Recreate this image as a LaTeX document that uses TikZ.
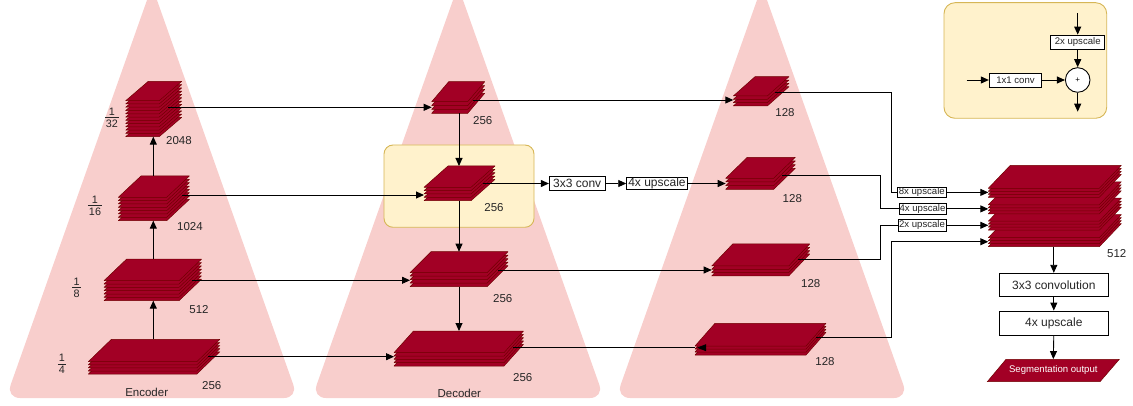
\documentclass[tikz,border=0pt]{standalone}
\usepackage{fontspec}
\setmainfont{Liberation Sans}
\usetikzlibrary{arrows.meta,calc}

\definecolor{slabfill}{HTML}{A20025}
\definecolor{slabedge}{HTML}{6F0000}
\definecolor{pyrfill}{HTML}{F8CECC}
\definecolor{hlfill}{HTML}{FFF2CC}
\definecolor{hledge}{HTML}{D6B656}

\tikzset{
  slab/.style={fill=slabfill, draw=slabedge, line width=0.5pt, line join=round},
  pyr/.style={fill=pyrfill, rounded corners=14pt},
  panel/.style={fill=hlfill, draw=hledge, line width=0.9pt},
  conn/.style={draw=black, line width=0.9pt},
  arr/.style={conn, -{Triangle[length=8pt,width=7pt]}},
  lbl/.style={font=\fontsize{11.5}{12}\selectfont, inner sep=0pt, text=black!85},
  fracnum/.style={font=\fontsize{10.8}{11}\selectfont, inner sep=0pt, text=black!85},
  box/.style={draw=black, line width=0.9pt, fill=white, inner sep=0pt,
              font=\fontsize{12}{13}\selectfont, text=black!85},
  sbox/.style={box, font=\fontsize{9.6}{10}\selectfont},
}

% stacked fraction in the text font: numerator, rule, denominator
\newcommand\fracstack[2]{\vbox{\offinterlineskip\halign{\hskip1.2pt\hfil##\hfil\hskip1.2pt\cr
  #1\cr\noalign{\kern1.6pt\hrule height0.9pt\kern1.6pt}#2\cr}}}

% a stack of feature maps: name, x, y (front-left of top face), width,
% slant dx, face height, number of layers, layer gap
\newcommand\layerstack[8]{%
  \foreach \i in {#7,...,1}{%
    \pgfmathsetmacro\yy{#3+(\i-1)*#8}%
    \filldraw[slab] (#2,\yy) -- ++(#4,0) -- ++(#5,-#6) -- ++(-#4,0) -- cycle;
  }%
  \coordinate (#1-tl) at ({#2+#5},{#3-#6});
  \coordinate (#1-bl) at (#2,{#3+(#7-1)*#8});
  \coordinate (#1-in) at (#2,{#3+0.45*(#7-1)*#8});
}

\begin{document}
\begin{tikzpicture}[x=1pt, y=-1pt]
\useasboundingbox (0,0) rectangle (1133,406);
\clip (0,0) rectangle (1133,406);

% pyramids behind the three columns
\foreach \c in {152,458,762}{
  \fill[pyr] (\c-146,398) -- (\c,-14) -- (\c+146,398) -- cycle;
}

% panels
\draw[panel, rounded corners=9pt] (384,145) rectangle (534,227.3);
\draw[panel, rounded corners=11pt] (944,2.7) rectangle (1106.7,118.3);

% encoder
\layerstack{E4}{88.3}{361.7}{108.5}{23}{22.3}{5}{3.1}
\layerstack{E8}{104}{280.7}{75}{22.5}{21.5}{7}{3.33}
\layerstack{E16}{118.3}{197.3}{48.4}{22.7}{21.3}{8}{3.34}
\layerstack{E32}{125.7}{100.7}{33.5}{22.5}{19.3}{12}{3.27}

% decoder
\layerstack{D1}{431.7}{101.7}{36}{17}{20}{4}{3.87}
\layerstack{D2}{424}{187.3}{47}{24}{21.3}{5}{3.35}
\layerstack{D3}{410}{272.7}{77}{21}{21}{5}{3.5}
\layerstack{D4}{394}{352.7}{110}{19.5}{21.7}{5}{3.33}

% third column
\layerstack{T1}{733.3}{96}{34}{21.7}{19.3}{4}{3.33}
\layerstack{T2}{725.7}{178.3}{48}{21.6}{21}{4}{3.67}
\layerstack{T3}{711.7}{266}{77}{21}{22}{4}{3.33}
\layerstack{T4}{695}{346}{111}{20}{22.7}{4}{3}

% concatenated output
\layerstack{O4}{988.3}{237.7}{111}{22}{23}{4}{3}
\layerstack{O3}{988.3}{221.2}{111}{22}{23}{4}{3}
\layerstack{O2}{988.3}{204.8}{111}{22}{23}{4}{3}
\layerstack{O1}{988.3}{188.3}{111}{22}{23}{4}{3}

% column and routing lines
\coordinate (ecol) at (153.3,0);
\coordinate (dcol) at (459,0);
\coordinate (r1) at (891,0);
\coordinate (r2) at (880,0);

% start points of the lateral connections
\coordinate (E32-out) at (168.3,107.3);
\coordinate (E16-out) at (181.7,195);
\coordinate (E8-out) at (191.7,280.3);
\coordinate (E4-out) at (208.3,356.7);
\coordinate (D1-out) at (473.3,100);
\coordinate (D2-out) at (483.3,183.5);
\coordinate (D3-out) at (498.3,270);
\coordinate (D4-out) at (513.3,347.7);
\coordinate (T1-out) at (775,92.7);
\coordinate (T2-out) at (781.7,175);
\coordinate (T3-out) at (798.3,259);
\coordinate (T4-out) at (816,337.3);

% boxes
\node[box, minimum width=55.7, minimum height=14.7] (c33) at (577.2,183.5) {3x3 conv};
\node[box, minimum width=60.6, minimum height=12.3] (u4a) at (657,183.5) {4x upscale};
\node[sbox, minimum width=48.3, minimum height=10] (up8) at (921.8,192.4) {8x upscale};
\node[sbox, minimum width=47, minimum height=11.5] (up4) at (922.5,208.9) {4x upscale};
\node[sbox, minimum width=48, minimum height=11.5] (up2) at (922,225.3) {2x upscale};
\node[box, minimum width=109, minimum height=23.4] (conv) at (1053.8,285) {3x3 convolution};
\node[box, minimum width=109, minimum height=24] (ups) at (1053.8,323) {4x upscale};

% segmentation output
\filldraw[fill=slabfill, draw=slabedge, line width=0.5pt]
  (987.3,381.7) -- (1100,381.7) -- (1119.3,359.3) -- (1006,359.3) -- cycle;
\node[inner sep=0pt, minimum height=22.4, text=white,
      font=\fontsize{9.6}{10}\selectfont] (seg) at (1053.3,370.5) {Segmentation output};

% encoder bottom-up path
\draw[arr] (E4-tl -| ecol) -- (E8-bl -| ecol);
\draw[arr] (E8-tl -| ecol) -- (E16-bl -| ecol);
\draw[arr] (E16-tl -| ecol) -- (E32-bl -| ecol);

% decoder top-down path
\draw[arr] (D1-bl -| dcol) -- (D2-tl -| dcol);
\draw[arr] (D2-bl -| dcol) -- (D3-tl -| dcol);
\draw[arr] (D3-bl -| dcol) -- (D4-tl -| dcol);

% lateral connections encoder -> decoder
\draw[arr] (E32-out) -- (E32-out -| D1-in);
\draw[arr] (E16-out) -- (E16-out -| D2-in);
\draw[arr] (E8-out) -- (E8-out -| D3-in);
\draw[arr] (E4-out) -- (E4-out -| D4-in);

% decoder -> third column
\draw[arr] (D1-out) -- (D1-out -| T1-in);
\draw[arr] (D2-out) -- (c33.west);
\draw[arr] (c33.east) -- (u4a.west);
\draw[arr] (u4a.east) -- (u4a.east -| T2-in);
\draw[arr] (D3-out) -- (D3-out -| T3-in);
\draw[conn] (D4-out) -- (D4-out -| T4-in);
\fill ($(D4-out -| T4-in)+(2,0)$) -- ++(9,-3.5) -- ++(0,7) -- cycle;

% third column -> upscaling -> output
\draw[conn] (T1-out) -| (r1 |- up8.west) -- (up8.west);
\draw[conn] (T2-out) -| (r2 |- up4.west) -- (up4.west);
\draw[conn] (T3-out) -| (r2 |- up2.west) -- (up2.west);
\draw[arr] (T4-out) -| (r1 |- O4-in) -- (O4-in);
\draw[arr] (up8.east) -- (up8.east -| O1-in);
\draw[arr] (up4.east) -- (up4.east -| O2-in);
\draw[arr] (up2.east) -- (up2.east -| O3-in);

% output head
\draw[arr] (conv.north |- O4-bl) -- (conv.north);
\draw[arr] (conv.south) -- (ups.north);
\draw[arr] (ups.south) -- (seg.north);

% labels
\node[lbl] (n-e32) at (179,141) {2048};
\node[lbl] (n-e16) at (190,226.7) {1024};
\node[lbl] (n-e8) at (199,309.3) {512};
\node[lbl] (n-e4) at (211.7,386) {256};
\node[lbl] (n-enc) at (146.7,392.7) {Encoder};
\node[lbl] (n-d1) at (482.7,120.7) {256};
\node[lbl] (n-d2) at (494,207.3) {256};
\node[lbl] (n-d3) at (502.7,298.7) {256};
\node[lbl] (n-d4) at (522.7,377.3) {256};
\node[lbl] (n-dec) at (459.3,393.3) {Decoder};
\node[lbl] (n-t1) at (785,112.7) {128};
\node[lbl] (n-t2) at (792.3,198.7) {128};
\node[lbl] (n-t3) at (810.7,283.3) {128};
\node[lbl] (n-t4) at (825,361.7) {128};
\node[lbl] (n-o) at (1116.7,253.3) {512};

% scale fractions
\node[fracnum] (f32) at (112,117.7) {\fracstack{1}{32}};
\node[fracnum] (f16) at (95,206) {\fracstack{1}{16}};
\node[fracnum] (f8) at (76.7,287.7) {\fracstack{1}{8}};
\node[fracnum] (f4) at (62,364) {\fracstack{1}{4}};

% legend: merge block
\coordinate (lg-top) at (1077.7,13.3);
\coordinate (lg-in) at (966.7,80);
\coordinate (lg-out) at (1077.7,111.7);
\node[sbox, minimum width=53.7, minimum height=14.3] (lg-up) at (1077.7,42.2) {2x upscale};
\node[sbox, minimum width=52.4, minimum height=14] (lg-conv) at (1015.5,80) {1x1 conv};
\node[circle, draw=black, line width=0.9pt, fill=white, minimum size=24.6, inner sep=0pt,
      font=\fontsize{8}{8}\selectfont] (lg-plus) at (1077.7,80) {+};
\draw[arr] (lg-top) -- (lg-up.north);
\draw[arr] (lg-up.south) -- (lg-plus.north);
\draw[arr] (lg-in) -- (lg-conv.west);
\draw[arr] (lg-conv.east) -- (lg-plus.west);
\draw[arr] (lg-plus.south) -- (lg-out);
\end{tikzpicture}
\end{document}
